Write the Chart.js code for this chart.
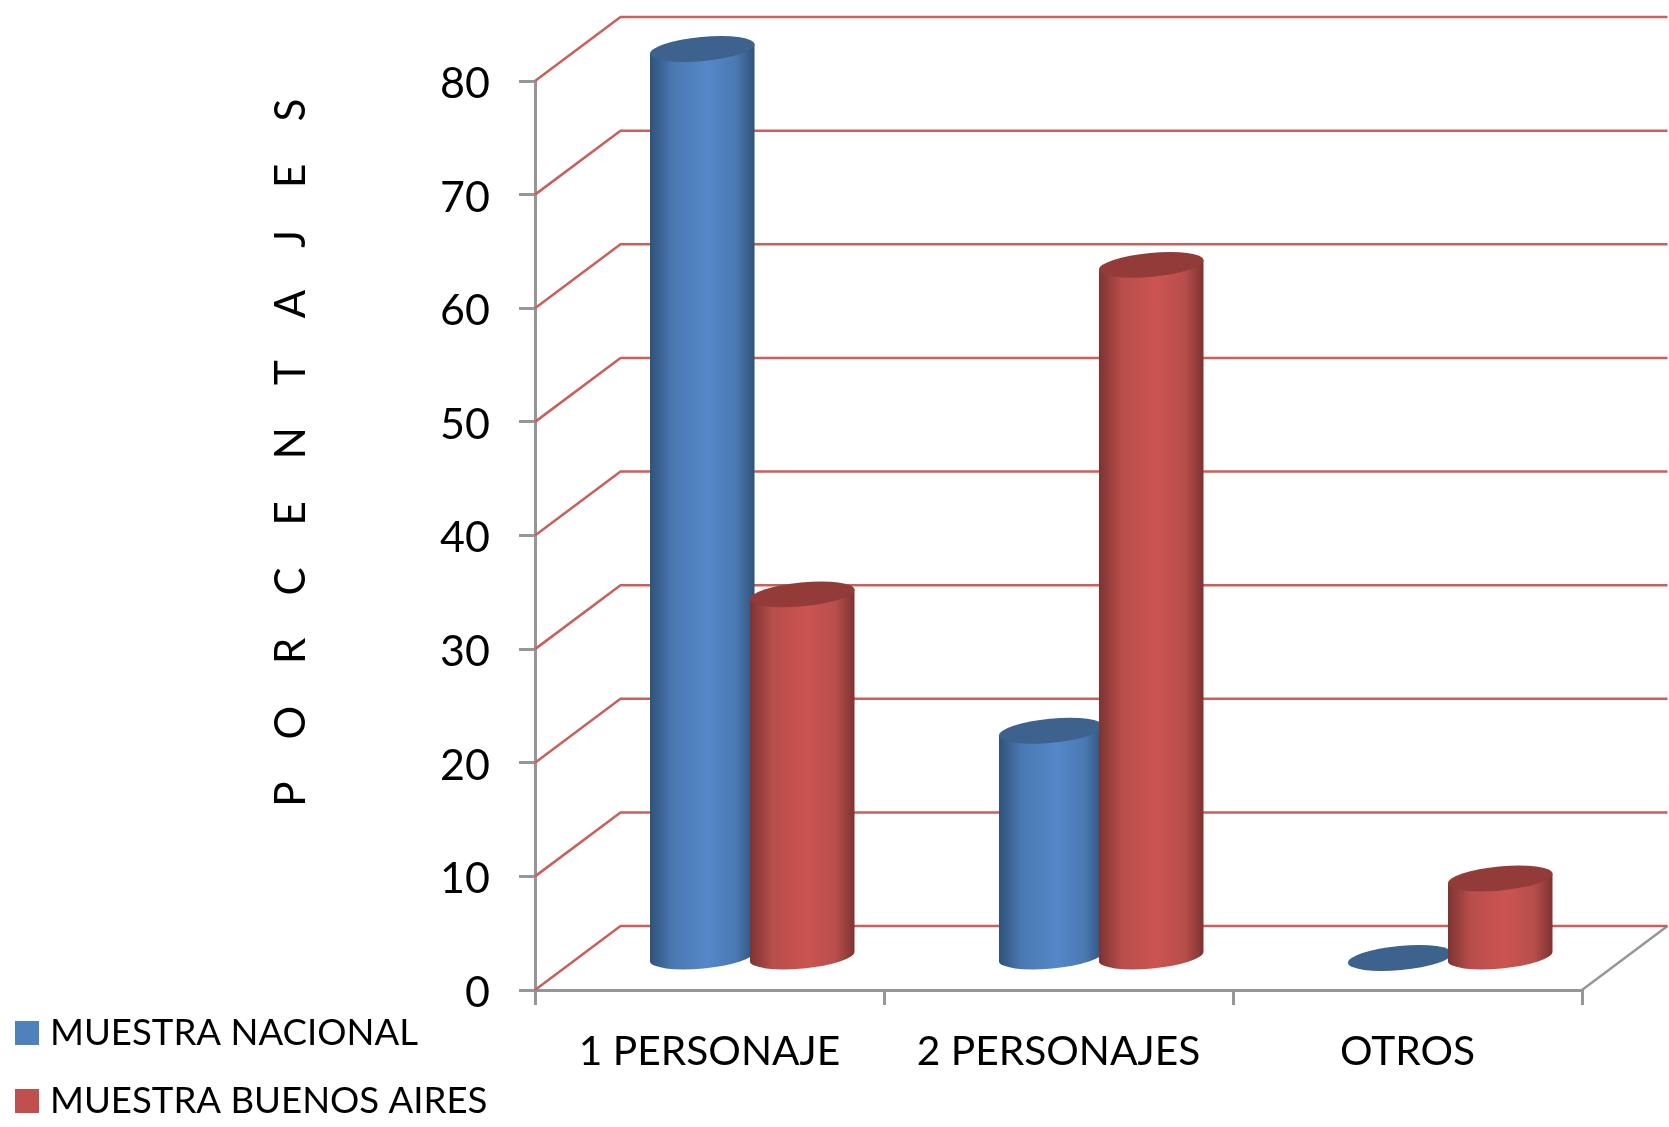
<!DOCTYPE html>
<html lang="es">
<head>
<meta charset="UTF-8">
<title>Porcentajes por muestra</title>
<script src="https://cdn.jsdelivr.net/npm/chart.js"></script>
<style>
  html, body { margin: 0; padding: 0; background: #fff; }
  canvas { display: block; }
</style>
</head>
<body>
<canvas id="myChart" width="1669" height="1127"></canvas>
<script>
const categorias = ["1 PERSONAJE", "2 PERSONAJES", "OTROS"];
const muestraNacional = [80, 20, 0];
const muestraBuenosAires = [32, 61, 7];
const tituloEjeY = "P O R C E N T A J E S";

const FONT = "Lato, Carlito, Calibri, sans-serif";
const ROJO_LINEA = "#c9605d";
const GRIS = "#969696";
const DX = 85.5, DY = 64;   // profundidad del piso 3D

const colores = [
  { leyenda: "#4f81bd", tapa: "#3c628d", borde: "#2f5279", medio: "#4a79b2", luz: "#5588c9" },
  { leyenda: "#c0504d", tapa: "#933b39", borde: "#7c3331", medio: "#b84e4b", luz: "#cb5450" }
];

function dibujarCilindro(ctx, el, c) {
  const rx = el.width / 2, ry = 12, rot = -0.094;
  const cx = el.x + DX / 2;
  const arriba = el.y - DY / 2, abajo = el.base - DY / 2;
  const sx = rx * Math.cos(rot), sy = rx * Math.sin(rot);

  if (abajo - arriba > 0.5) {
    const g = ctx.createLinearGradient(cx - rx, 0, cx + rx, 0);
    g.addColorStop(0, c.borde);
    g.addColorStop(0.22, c.medio);
    g.addColorStop(0.55, c.luz);
    g.addColorStop(0.82, c.medio);
    g.addColorStop(1, c.borde);
    ctx.beginPath();
    ctx.moveTo(cx - sx, arriba - sy);
    ctx.lineTo(cx - sx, abajo - sy);
    ctx.ellipse(cx, abajo, rx, ry, rot, Math.PI, 0, true);
    ctx.lineTo(cx + sx, arriba + sy);
    ctx.closePath();
    ctx.fillStyle = g;
    ctx.fill();
  }
  ctx.beginPath();
  ctx.ellipse(cx, arriba, rx, ry, rot, 0, Math.PI * 2);
  ctx.fillStyle = c.tapa;
  ctx.fill();
}

const escena3d = {
  id: "escena3d",
  beforeDatasetsDraw(chart) {
    const { ctx, chartArea: a, scales: { y } } = chart;
    ctx.save();
    // piso: lado derecho
    ctx.strokeStyle = GRIS;
    ctx.lineWidth = 2.5;
    ctx.beginPath();
    ctx.moveTo(a.right, a.bottom);
    ctx.lineTo(a.right + DX, a.bottom - DY);
    ctx.stroke();
    // lineas de la pared del fondo
    ctx.strokeStyle = ROJO_LINEA;
    ctx.lineWidth = 2.5;
    y.ticks.forEach(t => {
      const py = y.getPixelForValue(t.value);
      ctx.beginPath();
      ctx.moveTo(a.left, py);
      ctx.lineTo(a.left + DX, py - DY);
      ctx.lineTo(a.right + DX, py - DY);
      ctx.stroke();
    });
    ctx.restore();
  },
  beforeDatasetDraw() {
    return false; // los cilindros se dibujan abajo, en orden
  },
  afterDatasetsDraw(chart) {
    const { ctx } = chart;
    ctx.save();
    chart.data.datasets.forEach((ds, i) => {
      chart.getDatasetMeta(i).data.forEach(el => dibujarCilindro(ctx, el, colores[i]));
    });
    ctx.restore();
  },
  afterDraw(chart) {
    const { ctx } = chart;
    ctx.save();
    // leyenda
    ctx.textAlign = "left";
    ctx.textBaseline = "middle";
    ctx.font = "36.6px " + FONT;
    chart.data.datasets.forEach((ds, i) => {
      const top = 1021 + i * 68;
      ctx.fillStyle = colores[i].leyenda;
      ctx.fillRect(15, top, 24, 24);
      ctx.fillStyle = "#000";
      ctx.fillText(ds.label, 50, top + 12);
    });
    // titulo del eje y
    ctx.translate(291, 445);
    ctx.rotate(-Math.PI / 2);
    ctx.textAlign = "center";
    ctx.font = "42px " + FONT;
    ctx.letterSpacing = "15.65px";
    ctx.fillStyle = "#000";
    ctx.fillText(tituloEjeY, 0, 0);
    ctx.restore();
  }
};

new Chart(document.getElementById("myChart"), {
  type: "bar",
  data: {
    labels: categorias,
    datasets: [
      { label: "MUESTRA NACIONAL", data: muestraNacional, backgroundColor: colores[0].leyenda },
      { label: "MUESTRA BUENOS AIRES", data: muestraBuenosAires, backgroundColor: colores[1].leyenda }
    ]
  },
  plugins: [escena3d],
  options: {
    responsive: false,
    devicePixelRatio: 1,
    animation: false,
    layout: { padding: { left: 435, top: 81, right: 87, bottom: 0 } },
    datasets: { bar: { categoryPercentage: 0.573, barPercentage: 1.05 } },
    plugins: { legend: { display: false }, tooltip: { enabled: false } },
    scales: {
      x: {
        afterFit(s) { s.height = 137; },
        grid: { drawOnChartArea: false, color: GRIS, lineWidth: 3, tickLength: 15 },
        border: { color: GRIS, width: 3 },
        ticks: { color: "#000", font: { family: FONT, size: 40.7 }, padding: 22, maxRotation: 0 }
      },
      y: {
        min: 0,
        max: 80,
        afterFit(s) { s.width = 100; },
        grid: { drawOnChartArea: false, color: GRIS, lineWidth: 3, tickLength: 16 },
        border: { color: GRIS, width: 3 },
        ticks: { stepSize: 10, color: "#000", font: { family: FONT, size: 43 }, padding: 29, labelOffset: 3 }
      }
    }
  }
});
</script>
</body>
</html>
